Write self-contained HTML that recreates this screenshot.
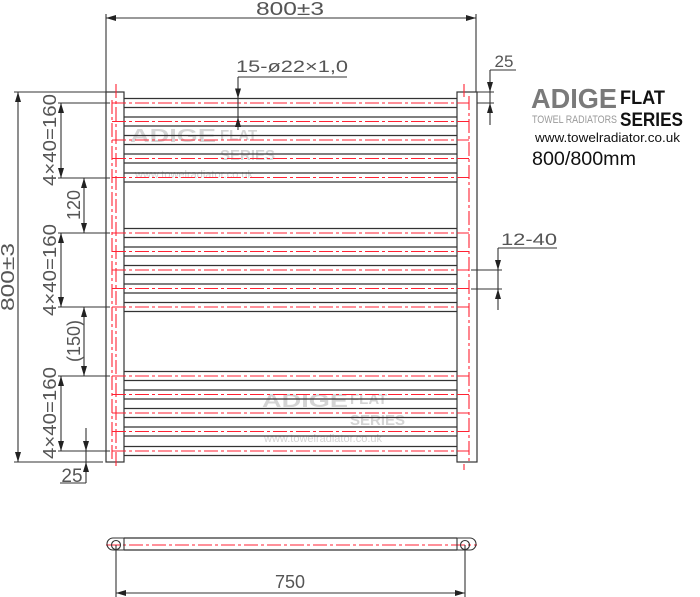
<!DOCTYPE html>
<html><head><meta charset="utf-8"><style>
html,body{margin:0;padding:0;background:#fff;}
svg{display:block}
text{font-family:"Liberation Sans",sans-serif;}
</style></head><body>
<svg width="700" height="597" viewBox="0 0 700 597" xmlns="http://www.w3.org/2000/svg">
<defs>
<marker id="a" viewBox="0 0 10 6" refX="10" refY="3" markerWidth="10" markerHeight="6" orient="auto-start-reverse" markerUnits="userSpaceOnUse"><path d="M0,0L10,3L0,6z" fill="#222"/></marker>
</defs>
<!-- watermarks -->
<g fill="#d4d4d4" font-weight="bold">
<text x="130" y="142" font-size="18" font-weight="bold" textLength="86" lengthAdjust="spacingAndGlyphs">ADIGE</text>
<text x="220" y="140" font-size="15" font-weight="bold">FLAT</text>
<text x="220" y="160" font-size="15" font-weight="bold">SERIES</text>
<text x="135" y="178" font-size="11" font-weight="normal">www.towelradiator.co.uk</text>
<text x="262" y="407" font-size="18" font-weight="bold" textLength="86" lengthAdjust="spacingAndGlyphs">ADIGE</text>
<text x="350" y="404" font-size="15" font-weight="bold">FLAT</text>
<text x="350" y="425" font-size="15" font-weight="bold">SERIES</text>
<text x="264" y="442" font-size="11" font-weight="normal">www.towelradiator.co.uk</text>
</g>
<!-- bars -->
<g stroke="#333" stroke-width="1.2">
<line x1="124" y1="98.5" x2="457" y2="98.5"/><line x1="124" y1="107.5" x2="457" y2="107.5"/>
<line x1="124" y1="117" x2="457" y2="117"/><line x1="124" y1="126" x2="457" y2="126"/>
<line x1="124" y1="135.5" x2="457" y2="135.5"/><line x1="124" y1="144.5" x2="457" y2="144.5"/>
<line x1="124" y1="154" x2="457" y2="154"/><line x1="124" y1="163" x2="457" y2="163"/>
<line x1="124" y1="173" x2="457" y2="173"/><line x1="124" y1="182" x2="457" y2="182"/>
<line x1="124" y1="228.5" x2="457" y2="228.5"/><line x1="124" y1="237.5" x2="457" y2="237.5"/>
<line x1="124" y1="247" x2="457" y2="247"/><line x1="124" y1="256" x2="457" y2="256"/>
<line x1="124" y1="265.5" x2="457" y2="265.5"/><line x1="124" y1="274.5" x2="457" y2="274.5"/>
<line x1="124" y1="284" x2="457" y2="284"/><line x1="124" y1="293" x2="457" y2="293"/>
<line x1="124" y1="302.5" x2="457" y2="302.5"/><line x1="124" y1="311.5" x2="457" y2="311.5"/>
<line x1="124" y1="371.5" x2="457" y2="371.5"/><line x1="124" y1="380.5" x2="457" y2="380.5"/>
<line x1="124" y1="390" x2="457" y2="390"/><line x1="124" y1="399" x2="457" y2="399"/>
<line x1="124" y1="408.5" x2="457" y2="408.5"/><line x1="124" y1="417.5" x2="457" y2="417.5"/>
<line x1="124" y1="427" x2="457" y2="427"/><line x1="124" y1="436" x2="457" y2="436"/>
<line x1="124" y1="446.5" x2="457" y2="446.5"/><line x1="124" y1="455.5" x2="457" y2="455.5"/>
</g>
<!-- uprights -->
<rect x="106" y="92" width="18" height="370" fill="none" stroke="#333" stroke-width="1.2"/>
<rect x="457" y="92" width="20" height="370" fill="none" stroke="#333" stroke-width="1.2"/>
<!-- red centerlines -->
<g stroke="#f23" stroke-width="1.1" stroke-dasharray="14 3 3 3" fill="none">
<line x1="112" y1="103" x2="469" y2="103"/>
<line x1="112" y1="121.5" x2="469" y2="121.5"/>
<line x1="112" y1="140" x2="469" y2="140"/>
<line x1="112" y1="158.5" x2="469" y2="158.5"/>
<line x1="112" y1="177.5" x2="469" y2="177.5"/>
<line x1="112" y1="233" x2="469" y2="233"/>
<line x1="112" y1="251.5" x2="469" y2="251.5"/>
<line x1="112" y1="270" x2="469" y2="270"/>
<line x1="112" y1="288.5" x2="469" y2="288.5"/>
<line x1="112" y1="307" x2="469" y2="307"/>
<line x1="112" y1="376" x2="469" y2="376"/>
<line x1="112" y1="394.5" x2="469" y2="394.5"/>
<line x1="112" y1="413" x2="469" y2="413"/>
<line x1="112" y1="431.5" x2="469" y2="431.5"/>
<line x1="112" y1="451" x2="469" y2="451"/>
<line x1="116" y1="84" x2="116" y2="469"/>
<line x1="469" y1="96" x2="469" y2="462"/>
<line x1="112" y1="100" x2="112" y2="462"/>
<line x1="106" y1="545" x2="477" y2="545"/>
</g>
<g stroke="#f23" stroke-width="1.1" fill="none">
<line x1="464" y1="84" x2="464" y2="97"/>
<line x1="464" y1="464" x2="464" y2="470"/>
</g>
<!-- dims -->
<g stroke="#333" stroke-width="1.1" fill="none">
<line x1="106" y1="14" x2="106" y2="92"/>
<line x1="476" y1="14" x2="476" y2="92"/>
<line x1="106" y1="18" x2="476" y2="18" marker-start="url(#a)" marker-end="url(#a)"/>
<line x1="14" y1="92" x2="106" y2="92"/>
<line x1="14" y1="462" x2="103" y2="462"/>
<line x1="18" y1="92" x2="18" y2="462" marker-start="url(#a)" marker-end="url(#a)"/>
<line x1="58" y1="103" x2="110" y2="103"/>
<line x1="58" y1="178" x2="110" y2="178"/>
<line x1="58" y1="233" x2="110" y2="233"/>
<line x1="58" y1="307" x2="110" y2="307"/>
<line x1="58" y1="376" x2="110" y2="376"/>
<line x1="58" y1="451" x2="110" y2="451"/>
<line x1="61" y1="103" x2="61" y2="178" marker-start="url(#a)" marker-end="url(#a)"/>
<line x1="84" y1="178" x2="84" y2="233" marker-start="url(#a)" marker-end="url(#a)"/>
<line x1="61" y1="233" x2="61" y2="307" marker-start="url(#a)" marker-end="url(#a)"/>
<line x1="84" y1="307" x2="84" y2="376" marker-start="url(#a)" marker-end="url(#a)"/>
<line x1="61" y1="376" x2="61" y2="451" marker-start="url(#a)" marker-end="url(#a)"/>
<line x1="86" y1="428" x2="86" y2="451" marker-end="url(#a)"/>
<line x1="86" y1="483" x2="86" y2="462" marker-end="url(#a)"/>
<line x1="86" y1="451" x2="86" y2="462"/>
<line x1="60" y1="483" x2="86" y2="483"/>
<line x1="238" y1="77" x2="347" y2="77"/>
<line x1="238" y1="77" x2="238" y2="98.5" marker-end="url(#a)"/>
<line x1="238" y1="130" x2="238" y2="117" marker-end="url(#a)"/>
<line x1="238" y1="98.5" x2="238" y2="117"/>
<line x1="477" y1="92" x2="494" y2="92"/>
<line x1="477" y1="103" x2="494" y2="103"/>
<line x1="490" y1="70" x2="516" y2="70"/>
<line x1="490" y1="70" x2="490" y2="92" marker-end="url(#a)"/>
<line x1="490" y1="125" x2="490" y2="103" marker-end="url(#a)"/>
<line x1="490" y1="92" x2="490" y2="103"/>
<line x1="471" y1="270" x2="502" y2="270"/>
<line x1="471" y1="289" x2="502" y2="289"/>
<line x1="498" y1="248" x2="557" y2="248"/>
<line x1="498" y1="248" x2="498" y2="270" marker-end="url(#a)"/>
<line x1="498" y1="310" x2="498" y2="289" marker-end="url(#a)"/>
<line x1="498" y1="270" x2="498" y2="289"/>
<path d="M124,538 H457 M124,550 H457" stroke-width="1.2"/>
<path d="M124,538 H113 A6,6 0 0 0 113,550 H124 Z" />
<path d="M457,538 H470 A6,6 0 0 1 470,550 H457 Z" />
<circle cx="116" cy="545" r="4.5"/>
<circle cx="465" cy="545" r="4.5"/>
<line x1="116" y1="545" x2="116" y2="597"/>
<line x1="465" y1="545" x2="465" y2="597"/>
<line x1="116" y1="593" x2="465" y2="593" marker-start="url(#a)" marker-end="url(#a)"/>
</g>
<g fill="#555" font-size="18">
<text x="290" y="15" text-anchor="middle" textLength="68" lengthAdjust="spacingAndGlyphs">800±3</text>
<text x="292" y="72" text-anchor="middle" font-size="17" textLength="112" lengthAdjust="spacingAndGlyphs">15-ø22×1,0</text>
<text x="504" y="67" text-anchor="middle" font-size="17">25</text>
<text x="529" y="245" text-anchor="middle" font-size="17" textLength="56" lengthAdjust="spacingAndGlyphs">12-40</text>
<text x="72" y="482" text-anchor="middle" font-size="19">25</text>
<text x="290" y="588" text-anchor="middle">750</text>
<text transform="translate(14,277) rotate(-90)" text-anchor="middle" textLength="68" lengthAdjust="spacingAndGlyphs">800±3</text>
<text transform="translate(56,140) rotate(-90)" text-anchor="middle" textLength="92" lengthAdjust="spacingAndGlyphs">4×40=160</text>
<text transform="translate(80,205) rotate(-90)" text-anchor="middle">120</text>
<text transform="translate(56,270) rotate(-90)" text-anchor="middle" textLength="92" lengthAdjust="spacingAndGlyphs">4×40=160</text>
<text transform="translate(80,341) rotate(-90)" text-anchor="middle">(150)</text>
<text transform="translate(56,413) rotate(-90)" text-anchor="middle" textLength="92" lengthAdjust="spacingAndGlyphs">4×40=160</text>
</g>
<!-- logo -->
<text x="531" y="108" font-size="28" font-weight="bold" fill="#7a7a7a" textLength="86" lengthAdjust="spacingAndGlyphs">ADIGE</text>
<text x="532" y="123" font-size="11" fill="#9a9a9a" textLength="85" lengthAdjust="spacingAndGlyphs">TOWEL RADIATORS</text>
<text x="620" y="104" font-size="19" font-weight="bold" fill="#111" textLength="45" lengthAdjust="spacingAndGlyphs">FLAT</text>
<text x="620" y="126" font-size="19" font-weight="bold" fill="#111" textLength="63" lengthAdjust="spacingAndGlyphs">SERIES</text>
<text x="535" y="142" font-size="13" fill="#111" textLength="145" lengthAdjust="spacingAndGlyphs">www.towelradiator.co.uk</text>
<text x="532" y="165" font-size="19" fill="#111" textLength="104" lengthAdjust="spacingAndGlyphs">800/800mm</text>
</svg>
</body></html>
